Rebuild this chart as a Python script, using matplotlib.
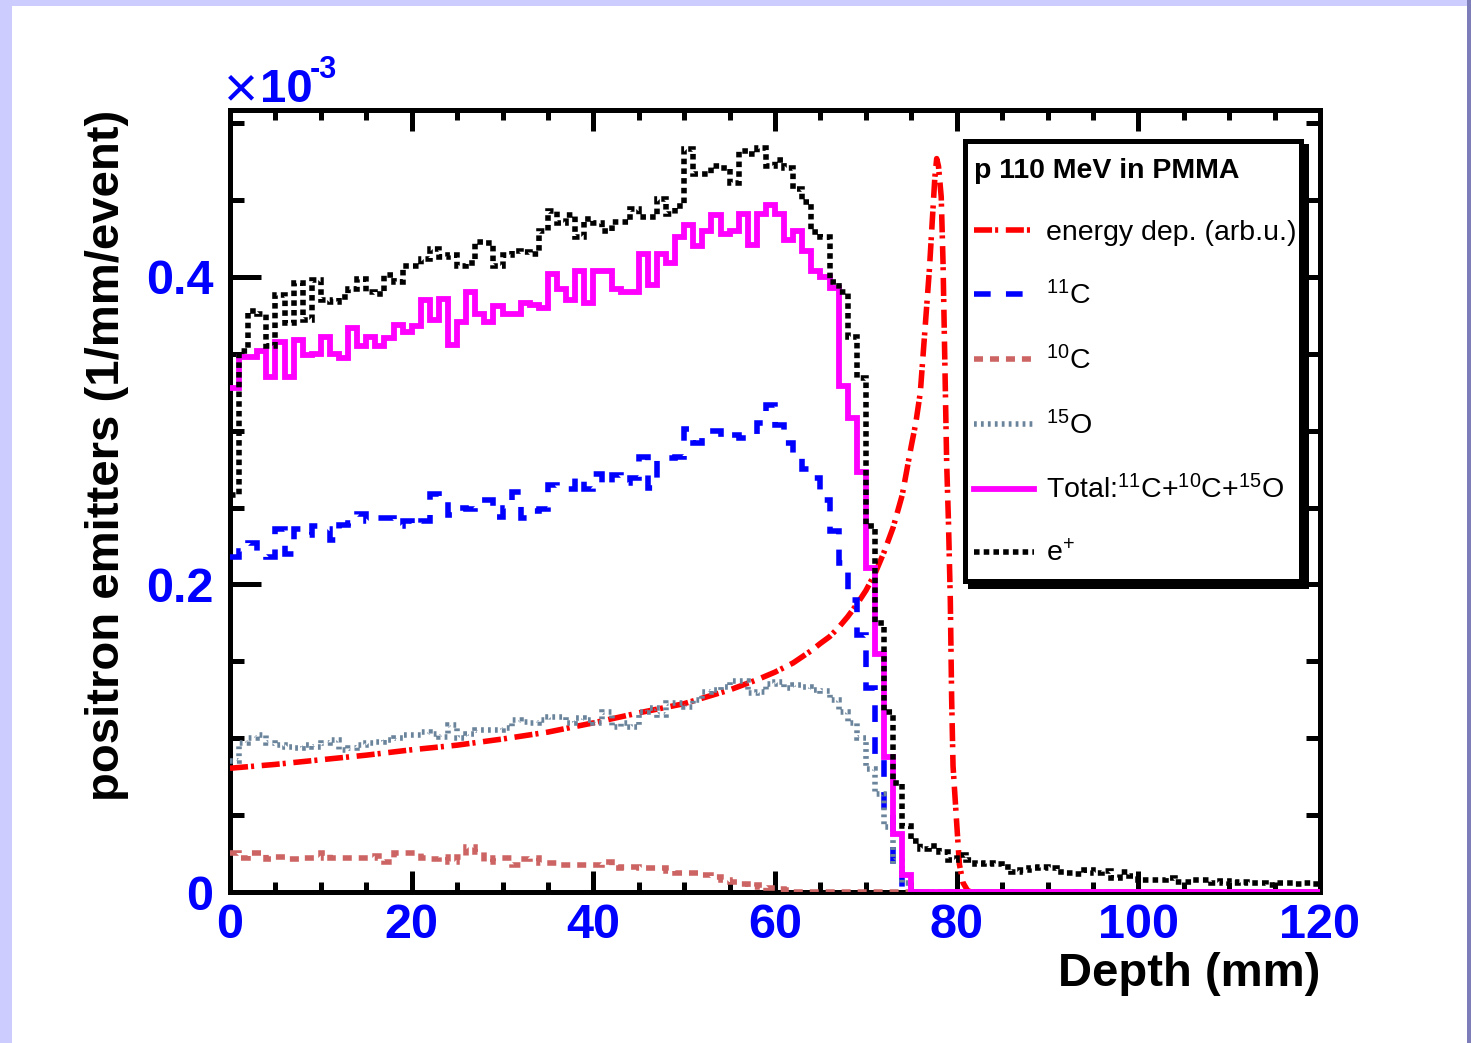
import numpy as np
import matplotlib.pyplot as plt
from matplotlib.patches import Rectangle
from matplotlib.lines import Line2D

plt.rcParams['font.family'] = ['Liberation Sans', 'DejaVu Sans']
plt.rcParams['mathtext.fontset'] = 'custom'
plt.rcParams['mathtext.rm'] = 'Liberation Sans'
plt.rcParams['mathtext.it'] = 'Liberation Sans'
plt.rcParams['mathtext.bf'] = 'Liberation Sans:bold'
plt.rcParams['lines.scale_dashes'] = False

# depth bins, 1 mm wide, 0..120 mm
edges = np.arange(0, 121)

# values in units of 1e-3 / mm / event
c11 = [0.218, 0.222, 0.227, 0.222, 0.218, 0.236, 0.220, 0.236, 0.232, 0.238,
       0.236, 0.229, 0.239, 0.240, 0.246, 0.241, 0.243, 0.243, 0.238, 0.241,
       0.238, 0.241, 0.259, 0.255, 0.245, 0.250, 0.249, 0.255, 0.255, 0.244,
       0.250, 0.260, 0.243, 0.248, 0.249, 0.265, 0.262, 0.262, 0.270, 0.262,
       0.272, 0.265, 0.271, 0.266, 0.269, 0.283, 0.263, 0.282, 0.282, 0.283,
       0.301, 0.292, 0.300, 0.300, 0.295, 0.297, 0.295, 0.295, 0.305, 0.317,
       0.304, 0.292, 0.285, 0.275, 0.269, 0.255, 0.235, 0.214, 0.190, 0.167,
       0.133, 0.090, 0.050, 0.016, 0.003] + [0.0] * 45

c10 = [0.0252, 0.0219, 0.0252, 0.0252, 0.0213, 0.0226, 0.0213, 0.0213, 0.0220, 0.0220,
       0.0252, 0.0220, 0.0220, 0.0220, 0.0220, 0.0220, 0.0233, 0.0197, 0.0252, 0.0252,
       0.0252, 0.0220, 0.0213, 0.0226, 0.0197, 0.0226, 0.0295, 0.0263, 0.0197, 0.0220,
       0.0220, 0.0176, 0.0213, 0.0220, 0.0189, 0.0189, 0.0176, 0.0176, 0.0176, 0.0176,
       0.0176, 0.0197, 0.0154, 0.0165, 0.0165, 0.0154, 0.0154, 0.0154, 0.0135, 0.0122,
       0.0122, 0.0122, 0.0111, 0.0095, 0.0078, 0.0067, 0.0050, 0.0035, 0.0046, 0.0024,
       0.0018, 0.0013] + [0.0] * 58

o15 = [0.085, 0.097, 0.100, 0.102, 0.0966, 0.0956, 0.0945, 0.0934, 0.0956, 0.0945,
       0.0966, 0.0988, 0.0923, 0.0934, 0.0956, 0.0966, 0.0977, 0.0988, 0.0999, 0.102,
       0.102, 0.104, 0.103, 0.101, 0.1086, 0.0999, 0.103, 0.1054, 0.1054, 0.1054,
       0.1065, 0.1118, 0.1108, 0.110, 0.1118, 0.114, 0.114, 0.110, 0.113, 0.112,
       0.110, 0.1173, 0.1075, 0.1097, 0.1075, 0.1173, 0.1195, 0.115, 0.1227, 0.1227,
       0.1206, 0.125, 0.1303, 0.1314, 0.1335, 0.1375, 0.1375, 0.1292, 0.130, 0.135,
       0.1368, 0.1325, 0.1346, 0.1335, 0.1314, 0.131, 0.125, 0.117, 0.110, 0.100,
       0.080, 0.064, 0.042, 0.020, 0.006] + [0.0] * 45

total = [0.328, 0.348, 0.348, 0.352, 0.335, 0.358, 0.335, 0.359, 0.349, 0.350,
         0.361, 0.350, 0.347, 0.367, 0.355, 0.361, 0.355, 0.360, 0.369, 0.364,
         0.368, 0.385, 0.372, 0.386, 0.356, 0.371, 0.390, 0.376, 0.371, 0.381,
         0.376, 0.376, 0.383, 0.382, 0.380, 0.402, 0.392, 0.385, 0.404, 0.383,
         0.404, 0.404, 0.392, 0.390, 0.390, 0.415, 0.395, 0.415, 0.409, 0.426,
         0.434, 0.420, 0.430, 0.440, 0.428, 0.430, 0.441, 0.421, 0.441, 0.447,
         0.441, 0.424, 0.430, 0.417, 0.404, 0.400, 0.393, 0.329, 0.308, 0.273,
         0.211, 0.155, 0.088, 0.038, 0.011] + [0.0] * 45

eplus = [0.258, 0.352, 0.378, 0.376, 0.355, 0.388, 0.370, 0.396, 0.372, 0.398,
         0.385, 0.384, 0.387, 0.392, 0.399, 0.390, 0.389, 0.401, 0.397, 0.407,
         0.407, 0.412, 0.418, 0.413, 0.414, 0.407, 0.409, 0.423, 0.422, 0.407,
         0.414, 0.417, 0.416, 0.415, 0.430, 0.443, 0.435, 0.440, 0.426, 0.438,
         0.435, 0.430, 0.436, 0.436, 0.444, 0.439, 0.439, 0.451, 0.441, 0.446,
         0.483, 0.467, 0.467, 0.472, 0.471, 0.461, 0.482, 0.480, 0.484, 0.472,
         0.476, 0.471, 0.457, 0.449, 0.429, 0.426, 0.397, 0.390, 0.361, 0.334,
         0.238, 0.175, 0.117, 0.071, 0.043, 0.033, 0.028, 0.030, 0.026, 0.021,
         0.024, 0.021, 0.018, 0.019, 0.018, 0.0165, 0.0132, 0.0143, 0.0154, 0.0165,
         0.0154, 0.0132, 0.0126, 0.0117, 0.0143, 0.0121, 0.0139, 0.0089, 0.0132, 0.0104,
         0.0078, 0.0078, 0.0078, 0.0089, 0.0067, 0.0067, 0.0078, 0.0078, 0.0056, 0.0072,
         0.0056, 0.0067, 0.0056, 0.0056, 0.0046, 0.0061, 0.0056, 0.0050, 0.0056, 0.0052]

# energy deposition (Bragg curve), arbitrary units scaled to the plot
edep_x = [0, 5, 10, 15, 20, 25, 30, 35, 40, 45, 50, 55, 58, 60, 62, 64, 65, 66, 67, 68,
          69, 70, 71, 72, 73, 74, 75, 75.5, 76, 76.5, 77, 77.3, 77.6, 77.8, 78.0, 78.3,
          78.5, 78.7, 78.9, 79.1, 79.3, 79.45, 79.6, 80.0, 80.3, 80.7, 81.2, 81.6, 90, 120]
edep_y = [0.0805, 0.083, 0.086, 0.089, 0.0925, 0.0955, 0.0995, 0.104, 0.110, 0.1165,
          0.1225, 0.1314, 0.138, 0.143, 0.149, 0.157, 0.1617, 0.166, 0.172, 0.179,
          0.187, 0.196, 0.207, 0.221, 0.237, 0.258, 0.290, 0.305, 0.325, 0.365,
          0.405, 0.435, 0.465, 0.477, 0.472, 0.452, 0.409, 0.344, 0.279, 0.240,
          0.190, 0.125, 0.082, 0.045, 0.018, 0.006, 0.001, 0.0, 0.0, 0.0]

W, H = 1471, 1043
fig = plt.figure(figsize=(W / 100, H / 100), dpi=100)
fig.patch.set_facecolor('#ccccff')
fig.add_artist(Rectangle((12 / W, 0), (1467 - 12) / W, (H - 6) / H, transform=fig.transFigure,
                         facecolor='white', edgecolor='none', zorder=0))
fig.add_artist(Rectangle((1467 / W, 0), 4 / W, 1, transform=fig.transFigure,
                         facecolor='#7d7dba', edgecolor='none', zorder=0))

ax = fig.add_axes([230 / W, (H - 892) / H, 1090 / W, 782 / H])
ax.set_facecolor('white')

lw = 4.0
z = 2.6
ax.plot(edep_x, edep_y, color='#ff0000', lw=lw, dashes=(13, 2.2, 2.2, 5.5), zorder=z)
ax.stairs(c11, edges, baseline=None, color='#0000ff', lw=lw, linestyle=(0, (12, 11)), zorder=z)
ax.stairs(c10, edges, baseline=None, color='#cd6464', lw=lw, linestyle=(0, (6.5, 5)), zorder=z)
ax.stairs(o15, edges, baseline=None, color='#6a849c', lw=lw, linestyle=(0, (2, 3)), zorder=z)
ax.stairs(total, edges, baseline=None, color='#ff00ff', lw=4.2, zorder=z)
ax.stairs(eplus, edges, baseline=None, color='black', lw=lw, linestyle=(0, (4, 3)), zorder=z)

ax.set_xlim(0, 120)
ax.set_ylim(0, 0.5086)

for s in ax.spines.values():
    s.set_linewidth(3.6)

blue = '#0000ff'
ax.set_xticks([0, 20, 40, 60, 80, 100, 120], labels=['0', '20', '40', '60', '80', '100', '120'],
              fontsize=35, fontweight='bold', color=blue)
ax.set_xticks(np.arange(0, 121, 5), minor=True)
ax.set_yticks([0, 0.2, 0.4], labels=['0', '0.2', '0.4'], fontsize=35, fontweight='bold', color=blue)
ax.set_yticks(np.arange(0, 0.51, 0.05), minor=True)
ax.tick_params(which='both', direction='in', top=True, right=True, width=3.6)
ax.tick_params(axis='x', which='major', length=15, pad=8)
ax.tick_params(axis='x', which='minor', length=7.5)
ax.tick_params(axis='y', which='major', length=22, pad=12)
ax.tick_params(axis='y', which='minor', length=10)

fig.text(107 / W, 1 - 455 / H, 'positron emitters (1/mm/event)', rotation=90, ha='center', va='center',
         fontsize=34, fontweight='bold')
fig.text(1320 / W, 1 - 974 / H, 'Depth (mm)', ha='right', va='center', fontsize=34, fontweight='bold')

# x10^-3 multiplier above the y axis
fig.text(224 / W, 1 - 106 / H, '\u00d7', ha='left', va='baseline', fontsize=42, color=blue)
fig.text(260 / W, 1 - 102 / H, '10', ha='left', va='baseline', fontsize=34, fontweight='bold', color=blue)
fig.text(310 / W, 1 - 78 / H, '-3', ha='left', va='baseline', fontsize=22, fontweight='bold', color=blue)

# legend box with a hard black shadow, drawn in pixel-derived axes coords
def ax_xy(px, py):
    return (px - 230) / 1090, (892 - py) / 782

sx0, sy0 = ax_xy(968, 589)
sx1, sy1 = ax_xy(1309, 144)
ax.add_patch(Rectangle((sx0, sy0), sx1 - sx0, sy1 - sy0, transform=ax.transAxes,
                       facecolor='black', edgecolor='none', zorder=8, clip_on=False))
bx0, by0 = ax_xy(964.5, 580.5)
bx1, by1 = ax_xy(1300.5, 140.5)
ax.add_patch(Rectangle((bx0, by0), bx1 - bx0, by1 - by0, transform=ax.transAxes,
                       facecolor='white', edgecolor='black', lw=3.6, zorder=9, clip_on=False))

handles = [
    Line2D([], [], color='#ff0000', lw=lw, dashes=(13, 2.2, 2.2, 5.5)),
    Line2D([], [], color='#0000ff', lw=lw, dashes=(12, 11)),
    Line2D([], [], color='#cd6464', lw=lw, dashes=(6.5, 5)),
    Line2D([], [], color='#6a849c', lw=lw, dashes=(2, 3)),
    Line2D([], [], color='#ff00ff', lw=4.2),
    Line2D([], [], color='black', lw=lw, dashes=(4, 3)),
]
labels = ['energy dep. (arb.u.)', r'$^{11}$C', r'$^{10}$C', r'$^{15}$O',
          r'Total:$^{11}$C+$^{10}$C+$^{15}$O', r'e$^{+}$']
lx, ly = ax_xy(954, 138)
leg = ax.legend(handles, labels, title='p 110 MeV in PMMA', loc='upper left',
                bbox_to_anchor=(lx, ly), frameon=False,
                fontsize=20.5, title_fontproperties={'weight': 'bold', 'size': 20.5},
                alignment='left', borderpad=0.7, labelspacing=1.25,
                handlelength=2.1, handletextpad=0.42, borderaxespad=0)
leg.set_zorder(10)

fig.savefig('out.png', dpi=100, facecolor=fig.get_facecolor())
